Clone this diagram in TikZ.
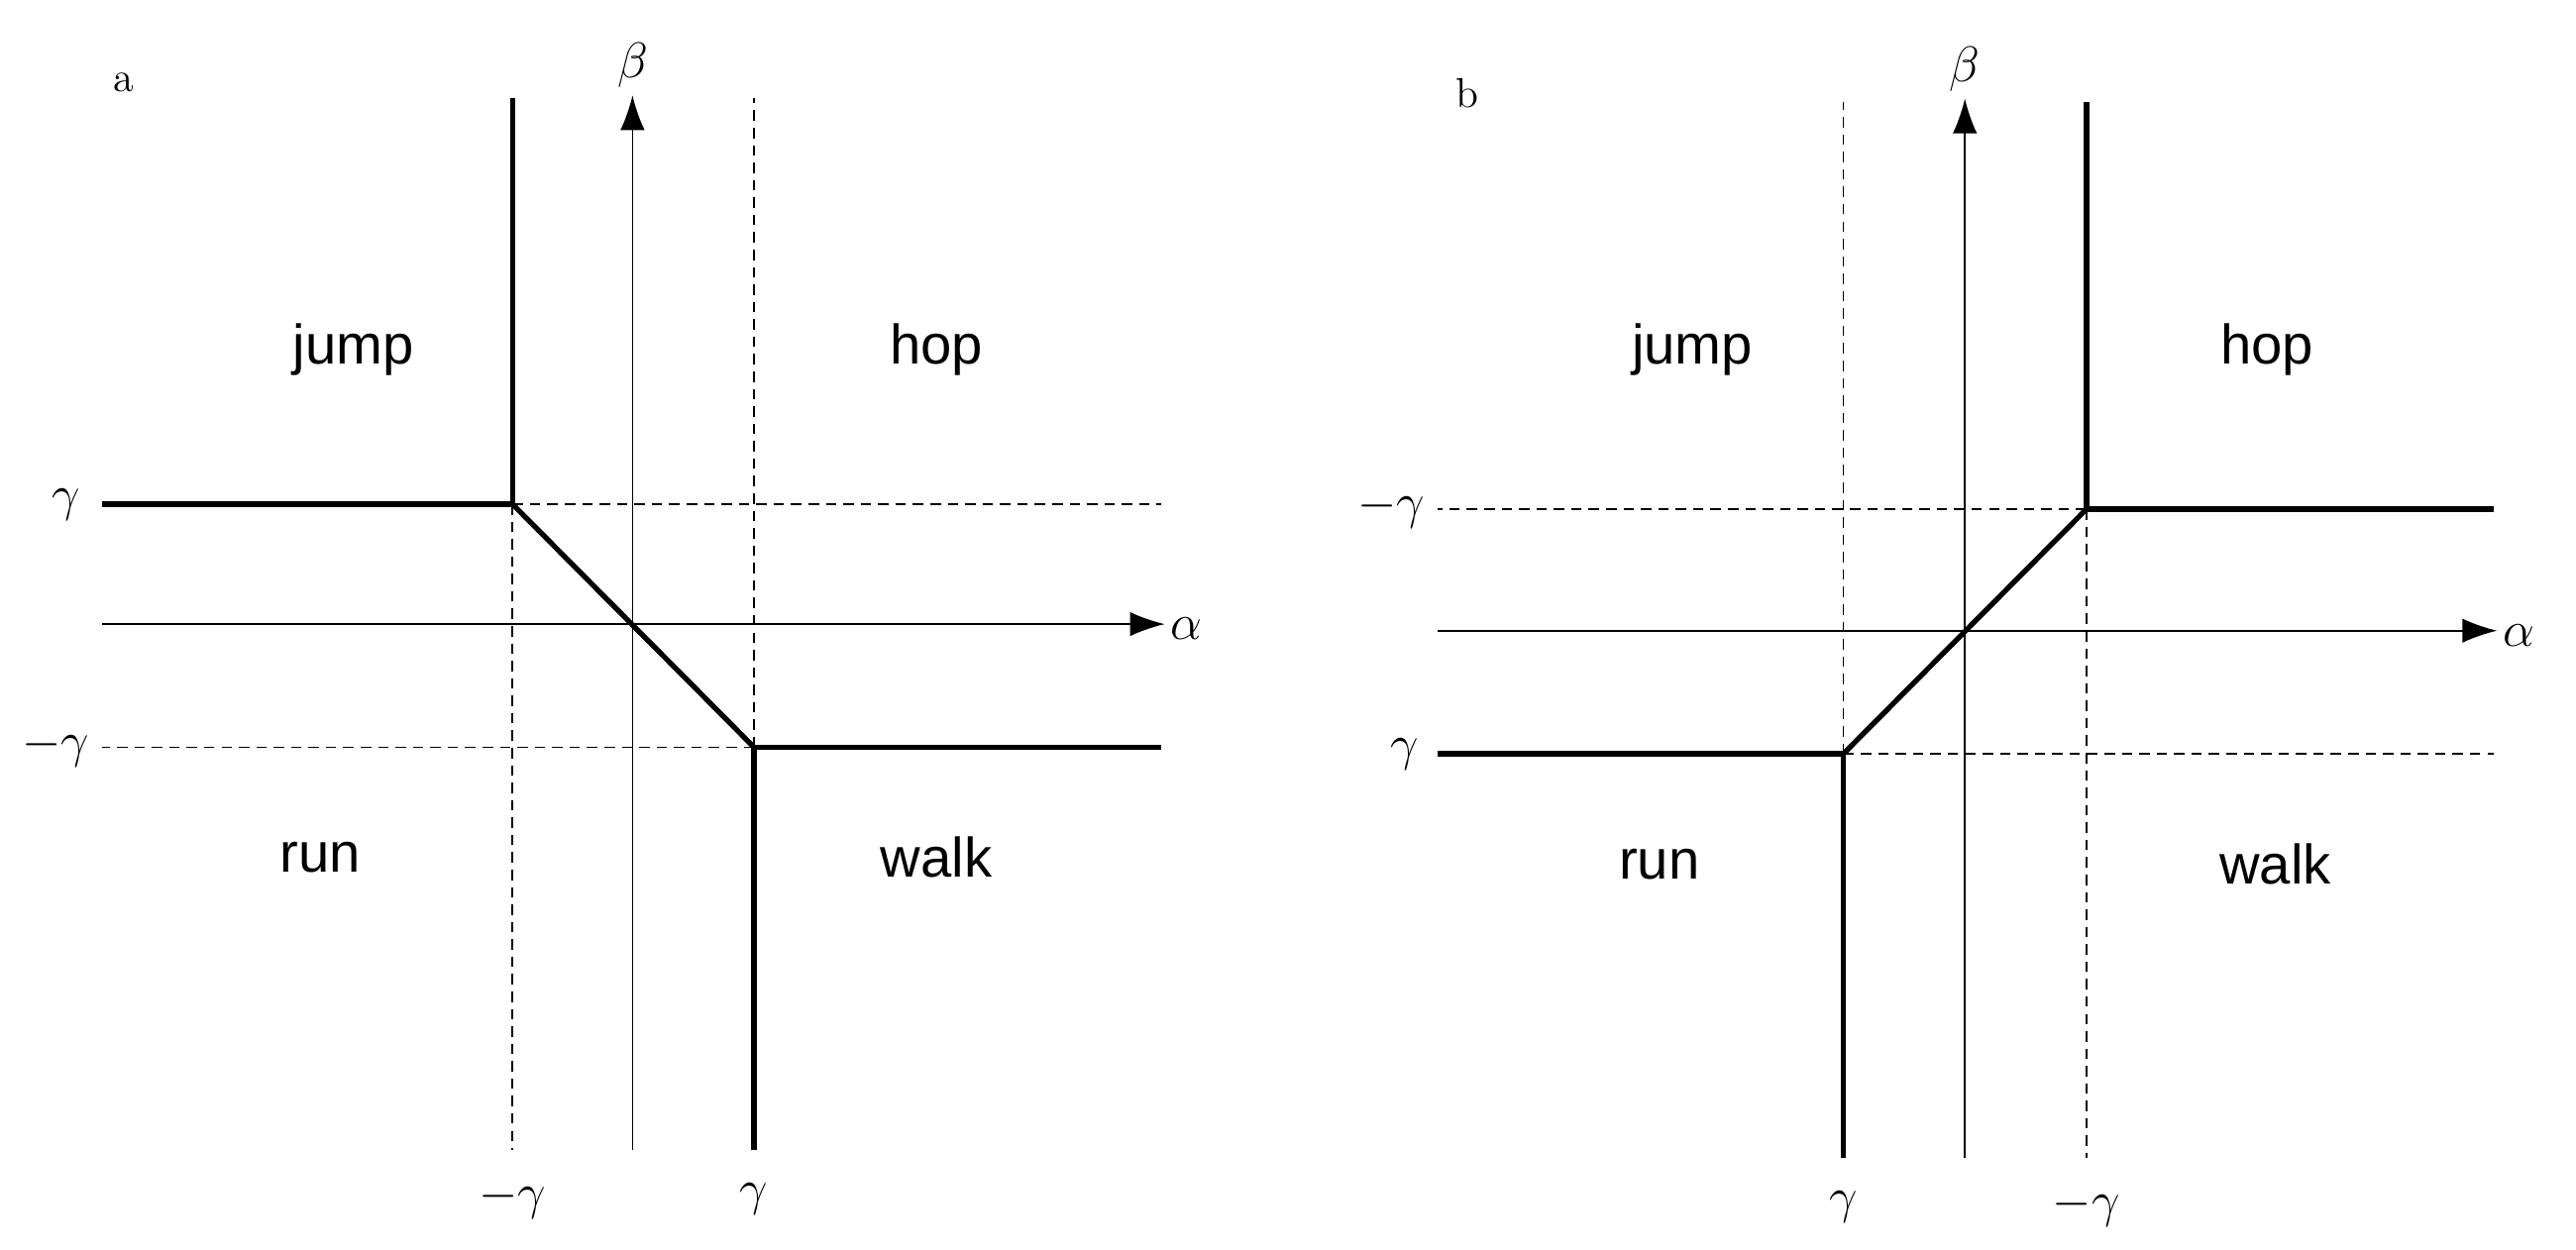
\documentclass[tikz,border=0pt]{standalone}
\usepackage{fontspec}
\setsansfont{Liberation Sans}
\usetikzlibrary{arrows.meta}
\begin{document}
\begin{tikzpicture}[x=0.016582cm,y=-0.016582cm,
  thickl/.style={line width=1.5pt},
  dashl/.style={line width=0.5pt,dash pattern=on 3pt off 2pt},
  axis/.style={line width=0.5pt,-{Latex[length=10pt,width=7pt]}},
  reg/.style={font=\sffamily\fontsize{16}{18}\selectfont},
  ml/.style={font=\fontsize{15}{17}\selectfont},
  pl/.style={font=\fontsize{12}{14}\selectfont}]
\useasboundingbox (0,0) rectangle (1568,761);
% ---------- panel a
\coordinate (aT) at (312,60); \coordinate (aP) at (312,307);
\coordinate (aL) at (62,307); \coordinate (aQ) at (459,455);
\coordinate (aR) at (707,455); \coordinate (aB) at (459,700);
\coordinate (aPb) at (312,700); \coordinate (aQt) at (459,60);
\coordinate (aPr) at (707,307); \coordinate (aQl) at (62,455);
\coordinate (ab0) at (385,700); \coordinate (ab1) at (385,58);
\coordinate (aa0) at (62,380); \coordinate (aa1) at (709,380);
\draw[dashl] (aP) -- (aPb); \draw[dashl] (aQ) -- (aQt);
\draw[dashl] (aP) -- (aPr); \draw[dashl] (aQ) -- (aQl);
\draw[axis] (ab0) -- (ab1); \draw[axis] (aa0) -- (aa1);
\draw[thickl] (aT) -- (aP) -- (aL);
\draw[thickl] (aP) -- (aQ);
\draw[thickl] (aR) -- (aQ) -- (aB);
\node[ml] (agl) at (40,307) {$\gamma$};
\node[ml] (amgl) at (34,455) {$-\gamma$};
\node[ml] (amgb) at (312,730) {$-\gamma$};
\node[ml] (agb) at (459,730) {$\gamma$};
\node[ml] (aal) at (722,383) {$\alpha$};
\node[ml] (abe) at (385,40) {$\beta$};
\node[pl] (alab) at (75,50) {a};
\node[reg] (aj) at (215,213) {jump};
\node[reg] (ah) at (570,213) {hop};
\node[reg] (ar) at (195,522) {run};
\node[reg] (aw) at (570,522) {walk};
% ---------- panel b
\coordinate (bT) at (1270,62); \coordinate (bP) at (1270,310);
\coordinate (bR) at (1518,310); \coordinate (bQ) at (1122,459);
\coordinate (bL) at (875,459); \coordinate (bB) at (1122,705);
\coordinate (bQt) at (1122,62); \coordinate (bPb) at (1270,705);
\coordinate (bPl) at (875,310); \coordinate (bQr) at (1518,459);
\coordinate (bb0) at (1196,705); \coordinate (bb1) at (1196,60);
\coordinate (ba0) at (875,384); \coordinate (ba1) at (1520,384);
\draw[dashl] (bQ) -- (bQt); \draw[dashl] (bP) -- (bPb);
\draw[dashl] (bP) -- (bPl); \draw[dashl] (bQ) -- (bQr);
\draw[axis] (bb0) -- (bb1); \draw[axis] (ba0) -- (ba1);
\draw[thickl] (bT) -- (bP) -- (bR);
\draw[thickl] (bP) -- (bQ);
\draw[thickl] (bL) -- (bQ) -- (bB);
\node[ml] (bmgl) at (847,310) {$-\gamma$};
\node[ml] (bgl) at (855,459) {$\gamma$};
\node[ml] (bgb) at (1122,735) {$\gamma$};
\node[ml] (bmgb) at (1270,735) {$-\gamma$};
\node[ml] (bal) at (1533,387) {$\alpha$};
\node[ml] (bbe) at (1196,42) {$\beta$};
\node[pl] (blab) at (893,57) {b};
\node[reg] (bj) at (1030,213) {jump};
\node[reg] (bh) at (1380,213) {hop};
\node[reg] (br) at (1010,526) {run};
\node[reg] (bw) at (1385,526) {walk};
\end{tikzpicture}
\end{document}
